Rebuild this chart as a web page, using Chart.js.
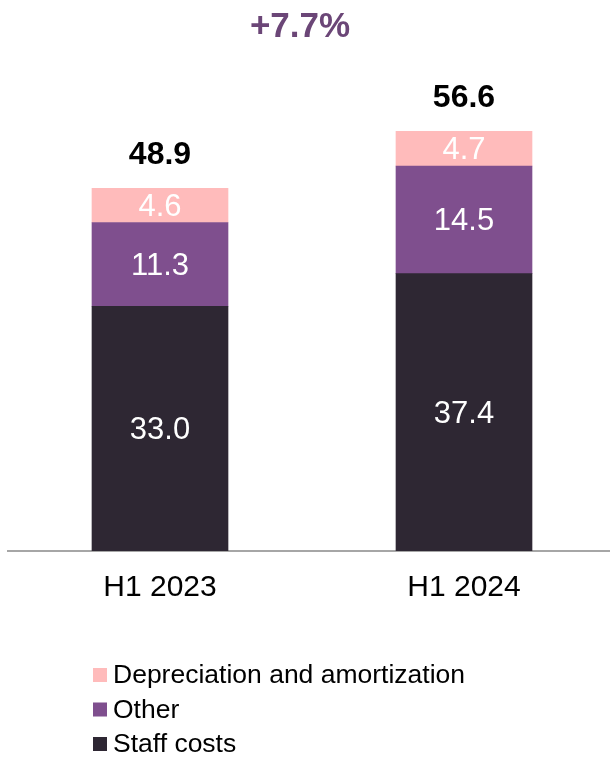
<!DOCTYPE html>
<html>
<head>
<meta charset="utf-8">
<title>Operating costs H1</title>
<script src="https://cdn.jsdelivr.net/npm/chart.js@4"></script>
<style>
  html, body { margin: 0; padding: 0; background: #fff; overflow: hidden; }
  #wrap { width: 616px; height: 757px; position: relative; }
</style>
</head>
<body>
<div id="wrap"><canvas id="costChart"></canvas></div>
<script>

// values in EUR m
const periods = ['H1 2023', 'H1 2024']
const staffCosts = [33.0, 37.4]
const otherCosts = [11.3, 14.5]
const depreciation = [4.6, 4.7]
const growthLabel = '+7.7%'

const FONT = '"Liberation Sans", Arial, sans-serif'

// white numbers inside each segment + bold total on top of the stack
const valueLabels = {
  id: 'valueLabels',
  afterDatasetsDraw(chart) {
    const ctx = chart.ctx
    ctx.save()
    ctx.textAlign = 'center'
    ctx.textBaseline = 'middle'
    ctx.fillStyle = '#fff'
    ctx.font = `31px ${FONT}`
    chart.data.datasets.forEach((ds, i) => {
      chart.getDatasetMeta(i).data.forEach((bar, j) => {
        ctx.fillText(ds.data[j].toFixed(1), bar.x, (bar.y + bar.base) / 2 + 2)
      })
    })

    const last = chart.getDatasetMeta(chart.data.datasets.length - 1)
    ctx.fillStyle = '#000'
    ctx.font = `bold 32px ${FONT}`
    last.data.forEach((bar, j) => {
      const total = chart.data.datasets.reduce((s, ds) => s + ds.data[j], 0)
      ctx.fillText(total.toFixed(1), bar.x, bar.y - 33)
    })
    ctx.restore()
  }
}

// growth headline and vertical legend (top item = top segment)
const decorations = {
  id: 'decorations',
  afterDraw(chart) {
    const ctx = chart.ctx
    ctx.save()
    ctx.textAlign = 'center'
    ctx.textBaseline = 'middle'
    ctx.fillStyle = '#6B4677'
    ctx.font = `bold 35px ${FONT}`
    ctx.fillText(growthLabel, 300, 27)

    ctx.textAlign = 'left'
    ctx.font = `26.5px ${FONT}`
    const items = chart.data.datasets.slice().reverse()
    items.forEach((ds, k) => {
      const y = 675 + k * 34.5
      ctx.fillStyle = ds.backgroundColor
      ctx.fillRect(93, y - 7, 14, 14)
      ctx.fillStyle = '#000'
      ctx.fillText(ds.label, 113, y + 1)
    })
    ctx.restore()
  }
}

const config = {
  type: 'bar',
  data: {
    labels: periods,
    datasets: [
      { label: 'Staff costs', data: staffCosts, backgroundColor: '#2E2733' },
      { label: 'Other', data: otherCosts, backgroundColor: '#7F4F8E' },
      { label: 'Depreciation and amortization', data: depreciation, backgroundColor: '#FFBBBB' }
    ]
  },
  options: {
    responsive: true,
    maintainAspectRatio: false,
    animation: false,
    barThickness: 136,
    layout: { padding: { left: 8, right: 0, top: 69, bottom: 132 } },
    plugins: {
      legend: { display: false },
      title: { display: false },
      tooltip: { enabled: false }
    },
    scales: {
      x: {
        stacked: true,
        grid: { display: false, drawTicks: false },
        border: { display: true, color: '#A6A6A6', width: 2 },
        ticks: { color: '#000', font: { family: FONT, size: 30 }, padding: 19 }
      },
      y: {
        stacked: true,
        display: false,
        min: 0,
        max: 65
      }
    }
  },
  plugins: [valueLabels, decorations]
}

const myChart = new Chart(document.getElementById('costChart'), config)
</script>
</body>
</html>
